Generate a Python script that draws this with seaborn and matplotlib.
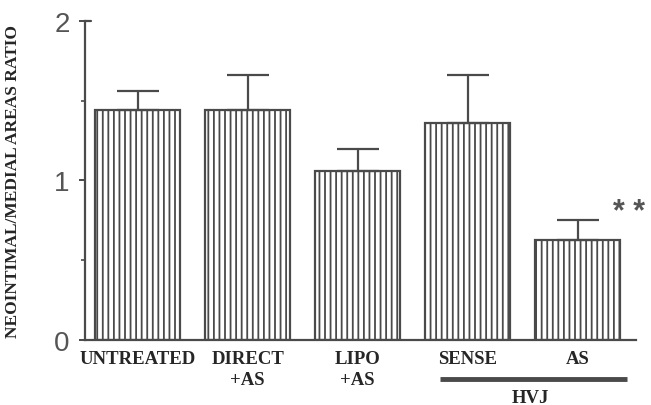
import pandas as pd
import seaborn as sns
import matplotlib.pyplot as plt
from matplotlib.ticker import FixedLocator

# values
groups = ['UNTREATED', 'DIRECT\n+AS', 'LIPO\n+AS', 'SENSE', 'AS']
ratio = [1.44, 1.44, 1.06, 1.36, 0.63]
sem_upper = [0.12, 0.22, 0.14, 0.30, 0.12]

GRAY = '#4a4a4a'

sns.set_style('ticks')
plt.rcParams['hatch.color'] = GRAY
plt.rcParams['hatch.linewidth'] = 1.3

df = pd.DataFrame({'group': groups, 'ratio': ratio, 'err': sem_upper})

fig = plt.figure(figsize=(6.51, 4.06), dpi=100)
ax = fig.add_axes([0.1306, 0.160, 0.846, 0.786])

sns.barplot(data=df, x='group', y='ratio', color='white', edgecolor=GRAY,
            linewidth=1.6, width=0.77, hatch='|||', errorbar=None, ax=ax)

ax.errorbar(range(len(groups)), df['ratio'],
            yerr=[[0] * len(groups), df['err']],
            fmt='none', ecolor=GRAY, elinewidth=1.6, capsize=15, capthick=1.6)

ax.set_ylim(0, 2)
ax.set_xlim(-0.48, 4.53)
ax.yaxis.set_major_locator(FixedLocator([0, 1, 2]))
ax.yaxis.set_minor_locator(FixedLocator([0.5, 1.5]))
ax.tick_params(axis='y', which='major', length=4, width=1.4, color=GRAY,
               labelsize=20, labelcolor='#555555', pad=7)
ax.tick_params(axis='y', which='minor', length=3, width=1.2, color=GRAY)
for lab in ax.get_yticklabels():
    lab.set_family('Liberation Sans')
ax.tick_params(axis='x', length=0, pad=7)
for lab in ax.get_xticklabels():
    lab.set_family('Liberation Serif')
    lab.set_fontweight('bold')
    lab.set_fontsize(13.5)
    lab.set_linespacing(1.3)
    lab.set_verticalalignment('top')

sns.despine(ax=ax)
for side in ['left', 'bottom']:
    ax.spines[side].set_color(GRAY)
    ax.spines[side].set_linewidth(1.6)

# small inward hook at the top of the y axis
ax.plot([-0.48, -0.43], [2, 2], color=GRAY, lw=1.6, clip_on=False)

ax.set_xlabel('')
ax.set_ylabel('NEOINTIMAL/MEDIAL AREAS RATIO', family='Liberation Serif',
              fontweight='bold', fontsize=12.5, labelpad=24)

# HVJ bracket under SENSE / AS
trans = ax.get_xaxis_transform()
ax.plot([2.75, 4.45], [-0.122, -0.122], color=GRAY, lw=3.5,
        transform=trans, clip_on=False, solid_capstyle='butt')
ax.text(3.57, -0.18, 'HVJ', transform=trans, ha='center', va='center',
        family='Liberation Serif', fontweight='bold', fontsize=13.5)

ax.text(4.47, 0.80, '* *', ha='center', va='center', color='#555555',
        family='Liberation Sans', fontweight='bold', fontsize=22)

fig.savefig('out.png', dpi=100)
